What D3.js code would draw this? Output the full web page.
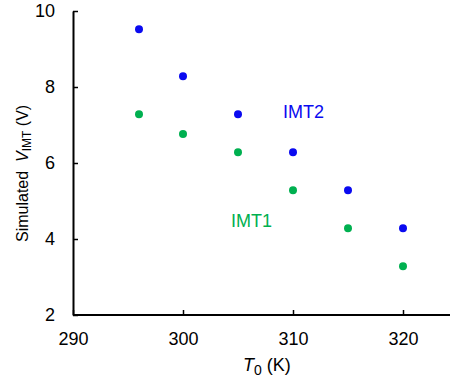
<!DOCTYPE html>
<html>
<head>
<meta charset="utf-8">
<script src="https://cdn.jsdelivr.net/npm/d3@7"></script>
<style>
  body { margin: 0; background: #fff; }
  text { font-family: "Liberation Sans", Arial, sans-serif; }
</style>
</head>
<body>
<svg width="450" height="379"></svg>
<script>
const temps = [296, 300, 305, 310, 315, 320];
const imt2 = [9.52, 8.28, 7.28, 6.28, 5.28, 4.28];
const imt1 = [7.28, 6.76, 6.28, 5.28, 4.28, 3.28];
const xTicks = [290, 300, 310, 320];
const yTicks = [2, 4, 6, 8, 10];

const svg = d3.select('svg');
const x = d3.scaleLinear().domain([290, 320]).range([73, 403]);
const y = d3.scaleLinear().domain([2, 10]).range([315, 11]);

// axes: ticks point inward
const xAxis = svg.append('g')
  .attr('transform', `translate(0,${y(2)})`)
  .call(d3.axisBottom(x).tickValues(xTicks).tickSizeInner(-5).tickSizeOuter(0).tickPadding(17));
xAxis.select('.domain').attr('d', `M${x(290)},0H450`);
const yAxis = svg.append('g')
  .attr('transform', `translate(${x(290)},0)`)
  .call(d3.axisLeft(y).tickValues(yTicks).tickSizeInner(-5).tickSizeOuter(0).tickPadding(18));
[xAxis, yAxis].forEach(g => {
  g.select('.domain').attr('stroke', '#000').attr('stroke-width', 2);
  g.selectAll('.tick line').attr('stroke', '#000').attr('stroke-width', 1.5);
  g.selectAll('.tick text').attr('font-size', 18).attr('fill', '#000')
    .attr('font-family', '"Liberation Sans", Arial, sans-serif');
});
xAxis.selectAll('.tick text').attr('dy', '0.71em');

const series = [
  { name: 'IMT2', values: imt2, color: '#0a0af0' },
  { name: 'IMT1', values: imt1, color: '#00b050' }
];
series.forEach(s => {
  svg.append('g').selectAll('circle')
    .data(temps)
    .join('circle')
    .attr('cx', d => x(d))
    .attr('cy', (d, i) => y(s.values[i]))
    .attr('r', 4)
    .attr('fill', s.color);
});

svg.append('text').attr('x', 283).attr('y', 118)
  .attr('font-size', 18).attr('fill', '#0a0af0').text('IMT2');
svg.append('text').attr('x', 231).attr('y', 227)
  .attr('font-size', 18).attr('fill', '#00b050').text('IMT1');

// x title
const xt = svg.append('text').attr('x', 243).attr('y', 371)
  .attr('font-size', 18);
xt.append('tspan').attr('font-style', 'italic').text('T');
xt.append('tspan').attr('font-size', 14).attr('dy', 4).text('0');
xt.append('tspan').attr('dy', -4).text(' (K)');

// y title
const yt = svg.append('text')
  .attr('transform', 'translate(28,242) rotate(-90)')
  .attr('font-size', 16);
yt.append('tspan').text('Simulated\u00a0 ');
yt.append('tspan').attr('font-style', 'italic').text('V');
yt.append('tspan').attr('font-size', 12).attr('dy', 3).text('IMT');
yt.append('tspan').attr('dy', -3).text(' (V)');
</script>
</body>
</html>
